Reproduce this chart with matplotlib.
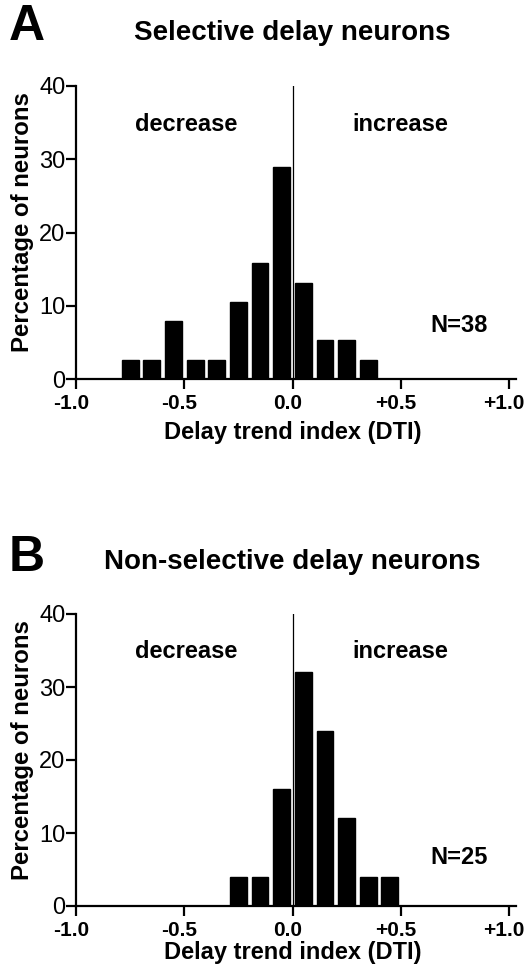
import matplotlib
matplotlib.use("Agg")
import matplotlib.pyplot as plt
from matplotlib.transforms import ScaledTranslation

plt.rcParams['font.family'] = ['Liberation Sans', 'DejaVu Sans']

bin_centers_a = [-0.75, -0.65, -0.55, -0.45, -0.35, -0.25, -0.15, -0.05, 0.05, 0.15, 0.25, 0.35]
pct_a = [2.63, 2.63, 7.89, 2.63, 2.63, 10.53, 15.79, 28.95, 13.16, 5.26, 5.26, 2.63]
bin_centers_b = [-0.25, -0.15, -0.05, 0.05, 0.15, 0.25, 0.35, 0.45]
pct_b = [4, 4, 16, 32, 24, 12, 4, 4]

xticks = [-1.0, -0.5, 0.0, 0.5, 1.0]
xticklabels = ['-1.0', '-0.5', '0.0', '+0.5', '+1.0']
yticks = [0, 10, 20, 30, 40]

W, H = 525, 977
fig = plt.figure(figsize=(W / 100, H / 100), dpi=100)


def px(x, y):
    return x / W, 1 - y / H


panels = [
    dict(letter='A', title='Selective delay neurons', centers=bin_centers_a, vals=pct_a,
         top=86, bottom=379, n='N=38', ny=7.3, letter_y=27, title_y=33, ylab_y=222, xlab_y=433),
    dict(letter='B', title='Non-selective delay neurons', centers=bin_centers_b, vals=pct_b,
         top=614, bottom=906, n='N=25', ny=6.7, letter_y=558, title_y=562, ylab_y=750, xlab_y=953),
]

left_px, right_px = 76, 515.5
for p in panels:
    ax = fig.add_axes([left_px / W, 1 - p['bottom'] / H, (right_px - left_px) / W,
                       (p['bottom'] - p['top']) / H])
    ax.bar(p['centers'], p['vals'], width=0.078, color='black', edgecolor='black', zorder=2)
    ax.plot([0, 0], [0, 40], color='black', lw=0.9, zorder=3)
    ax.set_xlim(-1.0, 1.03)
    ax.set_ylim(0, 40)
    for s in ['top', 'right']:
        ax.spines[s].set_visible(False)
    for s in ['left', 'bottom']:
        ax.spines[s].set_linewidth(1.6)
    ax.spines['left'].set_bounds(0, 40)
    ax.set_xticks(xticks)
    ax.set_xticklabels(xticklabels, fontsize=15, fontweight='bold')
    ax.set_yticks(yticks)
    ax.set_yticklabels([str(v) for v in yticks], fontsize=17)
    ax.tick_params(axis='both', direction='out', length=7, width=1.6, color='black')
    ax.tick_params(axis='x', pad=4)
    ax.tick_params(axis='y', pad=0.5)
    shift = ScaledTranslation(-5 / 100, 0, fig.dpi_scale_trans)
    for lab in ax.get_xticklabels():
        lab.set_transform(lab.get_transform() + shift)
    ax.text(-0.49, 34.8, 'decrease', fontsize=17, fontweight='bold', ha='center', va='center')
    ax.text(0.50, 34.8, 'increase', fontsize=17, fontweight='bold', ha='center', va='center')
    ax.text(0.77, p['ny'], p['n'], fontsize=17, fontweight='bold', ha='center', va='center')

    fig.text(*px(27, p['letter_y']), p['letter'], fontsize=36, fontweight='bold',
             ha='center', va='center')
    fig.text(*px(292, p['title_y']), p['title'], fontsize=20, fontweight='bold',
             ha='center', va='center')
    fig.text(*px(23, p['ylab_y']), 'Percentage of neurons', fontsize=17.3, fontweight='bold',
             rotation=90, ha='center', va='center')
    fig.text(*px(293, p['xlab_y']), 'Delay trend index (DTI)', fontsize=17, fontweight='bold',
             ha='center', va='center')

fig.savefig('out.png', dpi=100, facecolor='white')
